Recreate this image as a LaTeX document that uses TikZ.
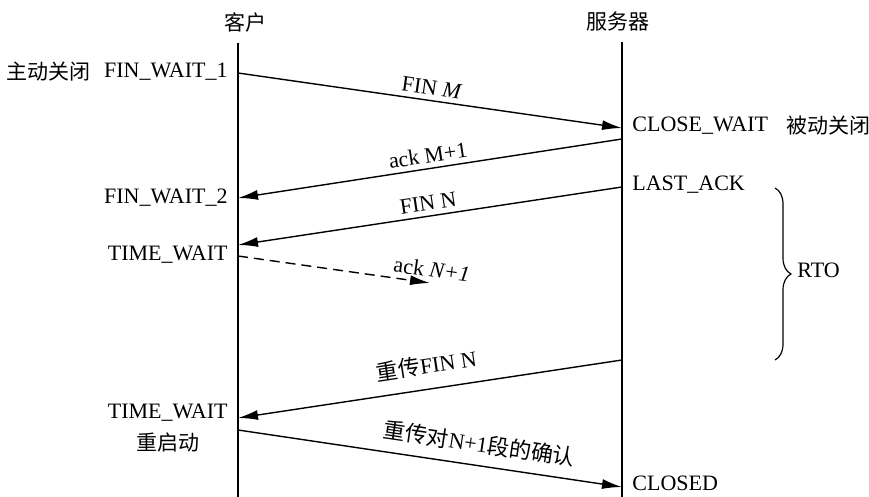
\documentclass[tikz,border=0pt]{standalone}
\usepackage{fontspec}
\setmainfont{Liberation Serif}
\newfontfamily\cjk{Noto Sans CJK SC}
\usepackage{tikz}
\usetikzlibrary{positioning}
\usetikzlibrary{arrows.meta}
\usetikzlibrary{decorations.pathreplacing}
\tikzset{lifeline/.style={ % vertical time lines
line width=0.85pt},
msg/.style={ % segments between the two hosts
draw,
line width=0.7pt,
-{Latex[length=10pt,width=5pt]}},
lbl/.style={sloped, above, inner sep=2.5pt}, % text on a segment
cn/.style={font=\cjk\fontsize{10.5}{13}\selectfont},
stateL/.style={anchor=east, inner sep=0pt},
stateR/.style={anchor=west, inner sep=0pt}}

\begin{document}
\begin{tikzpicture}[x=0.5pt, y=-0.5pt, font=\fontsize{11}{13}\selectfont]
\useasboundingbox (0,0) rectangle (869,497);
\node[cn] (cli) at (245,22) {客户};
\node[cn] (srv) at (618,22) {服务器};
\coordinate (ctop) at (238,43);
\coordinate (cbot) at (238,497);
\coordinate (stop) at (622,42);
\coordinate (sbot) at (622,497);
\draw[lifeline] (ctop) -- (cbot);
\draw[lifeline] (stop) -- (sbot);
% points on the time lines
\coordinate (c1) at (238,73);
\coordinate (s1) at (622,128);
\coordinate (s2) at (622,139);
\coordinate (c2) at (238,198);
\coordinate (s3) at (622,187);
\coordinate (c3) at (238,245);
\coordinate (c4) at (238,256);
\coordinate (lost) at (430,283);
\coordinate (s5) at (622,360);
\coordinate (c5) at (238,418);
\coordinate (c6) at (238,430);
\coordinate (s6) at (622,487);
% states
\node[stateL] (fw1) at (228,72) {FIN\_WAIT\_1};
\node[cn, left=6.5pt of fw1, inner sep=0pt] (active) {主动关闭};
\node[stateR] (cw) at (632,126) {CLOSE\_WAIT};
\node[cn, right=9pt of cw, inner sep=0pt] (passive) {被动关闭};
\node[stateL] (fw2) at (228,198) {FIN\_WAIT\_2};
\node[stateR] (la) at (632,185) {LAST\_ACK};
\node[stateL] (tw1) at (228,255) {TIME\_WAIT};
\node[stateL] (tw2) at (228,413) {TIME\_WAIT};
\node[cn] (restart) at (168,443) {重启动};
\node[stateR] (cl) at (632,483) {CLOSED};
% segments
\draw[msg] (c1) -- node[lbl] {FIN \textit{M}} (s1);
\draw[msg] (s2) -- node[lbl] {ack M+1} (c2);
\draw[msg] (s3) -- node[lbl] {FIN N} (c3);
\draw[msg, dash pattern=on 5pt off 3pt] (c4) -- node[lbl, pos=1] {ack \textit{N+1}} (lost);
\draw[msg] (s5) -- node[lbl, above=4pt] {{\cjk 重传}FIN N} (c5);
\draw[msg] (c6) -- node[lbl, pos=0.62, above=3pt] {{\cjk 重传对}N+1{\cjk 段的确认}} (s6);
% retransmission timeout
\coordinate (rtop) at (775,188);
\coordinate (rbot) at (775,360);
\draw[decorate, decoration={brace, amplitude=8pt}, line width=0.6pt] (rtop) -- (rbot);
\node[anchor=west, inner sep=0pt] (rto) at (797,270) {RTO};
\end{tikzpicture}
\end{document}
